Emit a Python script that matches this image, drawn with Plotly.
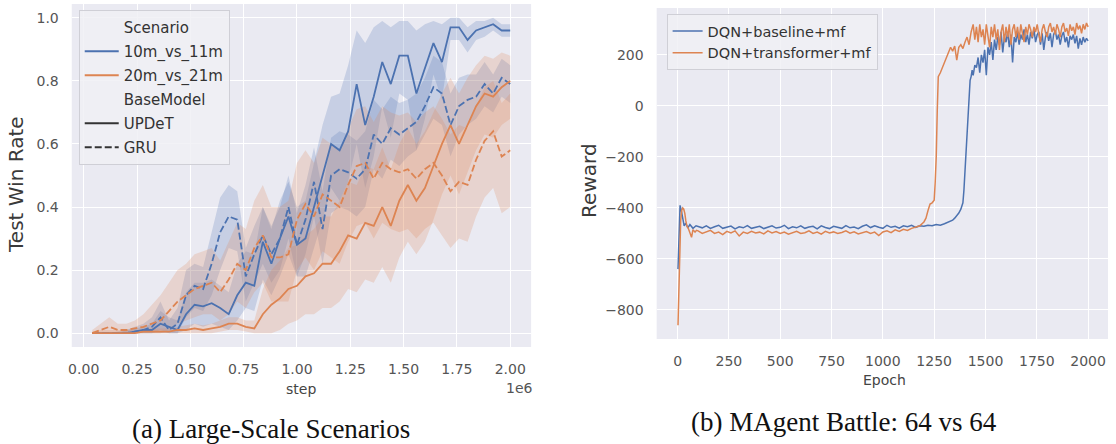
import plotly.graph_objects as go

W, H = 1116, 444

# ---------------- (a) Large-Scale Scenarios ----------------
STEPS_M = [round(0.04 * k, 2) for k in range(1, 51)]  # in units of 1e6 steps

B_UPDET = [0, 0, 0, 0, 0, 0.005, 0.01, 0.01, 0.03, 0.02,
           0.01, 0.06, 0.09, 0.085, 0.095, 0.08, 0.06, 0.12, 0.16, 0.15,
           0.29, 0.22, 0.30, 0.37, 0.28, 0.30, 0.40, 0.50, 0.60, 0.58,
           0.64, 0.79, 0.66, 0.75, 0.86, 0.79, 0.88, 0.88, 0.76, 0.84,
           0.92, 0.86, 0.97, 0.97, 0.93, 0.96, 0.97, 0.98, 0.96, 0.96]
B_UPDET_LO = [0, 0, 0, 0, 0, 0, 0, 0, 0, 0,
              0, 0.01, 0.03, 0.02, 0.03, 0.02, 0.01, 0.04, 0.08, 0.07,
              0.17, 0.12, 0.18, 0.25, 0.18, 0.18, 0.27, 0.36, 0.46, 0.42,
              0.48, 0.60, 0.46, 0.56, 0.72, 0.62, 0.76, 0.74, 0.58, 0.68,
              0.82, 0.74, 0.93, 0.93, 0.89, 0.93, 0.94, 0.96, 0.94, 0.94]
B_UPDET_HI = [0, 0, 0, 0, 0.01, 0.015, 0.02, 0.03, 0.07, 0.05,
              0.04, 0.13, 0.16, 0.16, 0.17, 0.15, 0.13, 0.22, 0.26, 0.25,
              0.40, 0.33, 0.42, 0.48, 0.40, 0.42, 0.54, 0.66, 0.75, 0.76,
              0.85, 0.96, 0.92, 0.97, 0.99, 0.97, 0.99, 0.99, 0.96, 0.98,
              0.99, 0.98, 1.0, 1.0, 0.97, 0.99, 0.99, 1.0, 0.98, 0.98]

B_GRU = [0, 0, 0, 0, 0, 0.005, 0.01, 0.02, 0.05, 0.01,
         0.03, 0.12, 0.15, 0.14, 0.22, 0.32, 0.37, 0.36, 0.18, 0.25,
         0.31, 0.25, 0.30, 0.40, 0.28, 0.36, 0.48, 0.33, 0.50, 0.52,
         0.51, 0.49, 0.52, 0.63, 0.60, 0.65, 0.63, 0.65, 0.67, 0.72,
         0.78, 0.76, 0.66, 0.72, 0.74, 0.75, 0.79, 0.76, 0.81, 0.79]
B_GRU_LO = [0, 0, 0, 0, 0, 0, 0, 0, 0.01, 0,
            0, 0.05, 0.08, 0.07, 0.12, 0.20, 0.27, 0.26, 0.10, 0.16,
            0.22, 0.16, 0.20, 0.30, 0.18, 0.25, 0.37, 0.22, 0.38, 0.40,
            0.39, 0.37, 0.40, 0.52, 0.49, 0.55, 0.53, 0.56, 0.58, 0.63,
            0.68, 0.66, 0.56, 0.63, 0.66, 0.68, 0.72, 0.70, 0.75, 0.73]
B_GRU_HI = [0, 0, 0, 0.005, 0.01, 0.02, 0.03, 0.05, 0.10, 0.04,
            0.08, 0.20, 0.22, 0.21, 0.32, 0.43, 0.47, 0.45, 0.27, 0.34,
            0.40, 0.34, 0.40, 0.50, 0.38, 0.47, 0.59, 0.45, 0.62, 0.64,
            0.63, 0.61, 0.64, 0.74, 0.71, 0.75, 0.73, 0.74, 0.76, 0.81,
            0.88, 0.86, 0.76, 0.81, 0.82, 0.82, 0.86, 0.82, 0.87, 0.85]

O_UPDET = [0, 0, 0, 0, 0, 0, 0.005, 0.005, 0.005, 0.005,
           0.01, 0.01, 0.015, 0.01, 0.015, 0.02, 0.03, 0.03, 0.02, 0.015,
           0.06, 0.09, 0.11, 0.14, 0.15, 0.18, 0.19, 0.22, 0.22, 0.26,
           0.31, 0.30, 0.35, 0.34, 0.40, 0.34, 0.42, 0.47, 0.42, 0.46,
           0.53, 0.60, 0.66, 0.60, 0.66, 0.72, 0.76, 0.75, 0.78, 0.80]
O_UPDET_LO = [0, 0, 0, 0, 0, 0, 0, 0, 0, 0,
              0, 0, 0, 0, 0, 0.005, 0.01, 0.01, 0.005, 0,
              0, 0, 0.01, 0.03, 0.04, 0.06, 0.06, 0.08, 0.08, 0.10,
              0.14, 0.13, 0.17, 0.16, 0.21, 0.16, 0.24, 0.29, 0.25, 0.29,
              0.36, 0.44, 0.50, 0.44, 0.51, 0.58, 0.63, 0.62, 0.66, 0.68]
O_UPDET_HI = [0.005, 0.01, 0.01, 0.01, 0.01, 0.01, 0.015, 0.015, 0.015, 0.015,
              0.02, 0.025, 0.03, 0.025, 0.03, 0.04, 0.05, 0.05, 0.04, 0.04,
              0.14, 0.20, 0.23, 0.27, 0.28, 0.31, 0.33, 0.37, 0.37, 0.42,
              0.48, 0.47, 0.53, 0.52, 0.59, 0.52, 0.60, 0.65, 0.60, 0.64,
              0.70, 0.76, 0.81, 0.76, 0.81, 0.85, 0.88, 0.87, 0.89, 0.88]

O_GRU = [0, 0.01, 0.02, 0.01, 0.01, 0.015, 0.02, 0.03, 0.04, 0.07,
         0.10, 0.12, 0.14, 0.15, 0.16, 0.13, 0.17, 0.22, 0.20, 0.27,
         0.31, 0.24, 0.24, 0.25, 0.36, 0.41, 0.37, 0.44, 0.42, 0.40,
         0.47, 0.53, 0.54, 0.49, 0.54, 0.52, 0.51, 0.52, 0.49, 0.52,
         0.54, 0.50, 0.45, 0.48, 0.47, 0.55, 0.61, 0.64, 0.56, 0.58]
O_GRU_LO = [0, 0, 0, 0, 0, 0, 0, 0, 0, 0.01,
            0.03, 0.04, 0.05, 0.06, 0.06, 0.04, 0.06, 0.10, 0.08, 0.13,
            0.16, 0.10, 0.10, 0.10, 0.20, 0.24, 0.20, 0.26, 0.24, 0.22,
            0.29, 0.34, 0.35, 0.30, 0.35, 0.33, 0.32, 0.33, 0.30, 0.33,
            0.35, 0.31, 0.27, 0.30, 0.29, 0.37, 0.43, 0.46, 0.38, 0.40]
O_GRU_HI = [0.01, 0.03, 0.05, 0.03, 0.03, 0.04, 0.06, 0.09, 0.12, 0.16,
            0.20, 0.22, 0.25, 0.26, 0.27, 0.23, 0.29, 0.35, 0.33, 0.42,
            0.47, 0.40, 0.40, 0.42, 0.54, 0.58, 0.54, 0.62, 0.60, 0.58,
            0.65, 0.71, 0.72, 0.67, 0.72, 0.70, 0.69, 0.70, 0.67, 0.70,
            0.72, 0.68, 0.63, 0.66, 0.65, 0.72, 0.78, 0.80, 0.73, 0.76]

A_XTICKS = [0, 0.25, 0.5, 0.75, 1.0, 1.25, 1.5, 1.75, 2.0]
A_XTICKTEXT = ["0.00", "0.25", "0.50", "0.75", "1.00", "1.25", "1.50", "1.75", "2.00"]
A_YTICKS = [0.0, 0.2, 0.4, 0.6, 0.8, 1.0]
A_YTICKTEXT = ["0.0", "0.2", "0.4", "0.6", "0.8", "1.0"]

# ---------------- (b) MAgent Battle ----------------
BASE_EP = ([2, 8, 12, 18, 25, 32, 40, 50, 60, 75, 90]
           + list(range(100, 1281, 20))
           + [1300, 1320, 1340, 1350, 1360, 1370, 1380, 1390, 1395, 1400, 1405,
              1410, 1415, 1420, 1425, 1430, 1435]
           + list(range(1440, 2001, 8)))
BASE_R = ([-640, -500, -390, -410, -440, -470, -460, -478, -465, -480, -470]
          + [-472, -478, -470, -480, -474, -468, -480, -476, -471, -482,
             -474, -478, -469, -480, -475, -472, -481, -474, -470, -479,
             -476, -468, -481, -474, -478, -470, -480, -475, -472, -482,
             -470, -477, -481, -472, -476, -480, -469, -478, -475, -481,
             -472, -466, -477, -470, -476, -480, -468, -476, -472, -479,
             -470, -474, -468, -476, -470, -472, -468, -470, -465, -468]
          + [-462, -455, -448, -440, -430, -420, -405, -380, -330, -250, -170,
             -100, -20, 50, 100, 115, 140]
          + [120, 160, 150, 190, 130, 200, 170, 220, 120, 230,
             200, 250, 180, 260, 220, 270, 240, 290, 210, 270,
             250, 290, 230, 280, 170, 270, 250, 290, 240, 280,
             260, 300, 250, 280, 240, 290, 265, 300, 250, 280,
             290, 240, 285, 220, 270, 290, 255, 285, 230, 280,
             295, 260, 280, 240, 275, 290, 250, 270, 230, 275,
             260, 280, 245, 275, 225, 265, 240, 270, 250, 265,
             255])

TRANS_EP = ([2, 6, 10, 15, 20, 25, 30, 35, 40, 45, 52, 60, 68, 75, 85, 92]
            + list(range(100, 1201, 20))
            + [1210, 1220, 1230, 1240, 1250, 1255, 1260, 1265, 1270, 1280, 1290,
               1300, 1310, 1320, 1330, 1340, 1350, 1360, 1370, 1380, 1390, 1400,
               1410, 1420, 1430]
            + list(range(1440, 2001, 8)))
TRANS_R = ([-860, -700, -560, -450, -410, -400, -405, -420, -450, -470, -480,
            -500, -515, -485, -495, -488]
           + [-490, -500, -495, -488, -500, -495, -505, -492, -498, -490,
              -510, -495, -500, -492, -498, -495, -502, -490, -498, -493,
              -500, -495, -503, -496, -492, -500, -497, -490, -500, -495,
              -503, -492, -498, -494, -500, -496, -490, -499, -494, -502,
              -496, -493, -500, -495, -508, -494, -490, -497, -486, -492,
              -484, -488, -480, -476, -470, -455]
           + [-440, -410, -385, -380, -370, -300, -200, -20, 115, 130, 150,
              170, 190, 210, 230, 215, 235, 180, 230, 240, 225, 250,
              270, 240, 290]
           + [320, 260, 310, 250, 320, 270, 300, 240, 320, 280,
              230, 310, 270, 320, 260, 300, 220, 290, 320, 250,
              310, 270, 320, 240, 300, 320, 270, 310, 260, 320,
              290, 250, 310, 280, 320, 300, 270, 310, 290, 320,
              280, 250, 300, 320, 290, 270, 310, 325, 290, 310,
              280, 320, 300, 270, 310, 325, 290, 305, 275, 320,
              295, 310, 280, 325, 300, 315, 285, 320, 300, 325,
              310])

assert len(BASE_EP) == len(BASE_R), (len(BASE_EP), len(BASE_R))
assert len(TRANS_EP) == len(TRANS_R), (len(TRANS_EP), len(TRANS_R))

B_XTICKS = [0, 250, 500, 750, 1000, 1250, 1500, 1750, 2000]
B_YTICKS = [-800, -600, -400, -200, 0, 200]
B_YTICKTEXT = ["\u2212800", "\u2212600", "\u2212400", "\u2212200", "0", "200"]

# ---------------- styling ----------------
BLUE = "#4C72B0"
ORANGE = "#DD8452"
BLUE_FILL = "rgba(76,114,176,0.22)"
ORANGE_FILL = "rgba(221,132,82,0.22)"
BG = "#EAEAF2"
TICK_FONT = dict(family="DejaVu Sans", size=14, color="#555555")
DASH = "7px,3px"


def px_x(p):
    return p / W


def px_y(p):
    return 1 - p / H


fig = go.Figure()

steps = [s * 1e6 for s in STEPS_M]


def band(lo, hi, color):
    fig.add_trace(go.Scatter(
        x=steps + steps[::-1], y=hi + lo[::-1], fill="toself", fillcolor=color,
        line=dict(width=0), mode="lines", hoverinfo="skip", showlegend=False,
        xaxis="x", yaxis="y"))


band(B_UPDET_LO, B_UPDET_HI, BLUE_FILL)
band(B_GRU_LO, B_GRU_HI, BLUE_FILL)
band(O_UPDET_LO, O_UPDET_HI, ORANGE_FILL)
band(O_GRU_LO, O_GRU_HI, ORANGE_FILL)

for ys, col, dash in [(B_UPDET, BLUE, "solid"), (B_GRU, BLUE, DASH),
                      (O_UPDET, ORANGE, "solid"), (O_GRU, ORANGE, DASH)]:
    fig.add_trace(go.Scatter(x=steps, y=ys, mode="lines",
                             line=dict(color=col, width=1.8, dash=dash),
                             showlegend=False, xaxis="x", yaxis="y"))

# legend entries for (a)
for i, (name, col, dash) in enumerate([("Scenario", "rgba(0,0,0,0)", "solid"),
                                       ("10m_vs_11m", BLUE, "solid"),
                                       ("20m_vs_21m", ORANGE, "solid"),
                                       ("BaseModel", "rgba(0,0,0,0)", "solid"),
                                       ("UPDeT", "#333333", "solid"),
                                       ("GRU", "#333333", DASH)]):
    fig.add_trace(go.Scatter(x=[None], y=[None], mode="lines", name=name,
                             legendgroup="a%d" % i,
                             line=dict(color=col, width=1.8, dash=dash),
                             legend="legend", xaxis="x", yaxis="y"))

# (b)
fig.add_trace(go.Scatter(x=BASE_EP, y=BASE_R, mode="lines", name="DQN+baseline+mf",
                         legendgroup="b0",
                         line=dict(color=BLUE, width=1.5), legend="legend2",
                         xaxis="x2", yaxis="y2"))
fig.add_trace(go.Scatter(x=TRANS_EP, y=TRANS_R, mode="lines", name="DQN+transformer+mf",
                         legendgroup="b1",
                         line=dict(color=ORANGE, width=1.5), legend="legend2",
                         xaxis="x2", yaxis="y2"))

axis_common = dict(showgrid=True, gridcolor="white", gridwidth=1, zeroline=False,
                   showline=False, ticks="", tickfont=TICK_FONT, ticklabelstandoff=12)

fig.update_layout(
    width=W, height=H, autosize=False,
    margin=dict(l=0, r=0, t=0, b=0),
    paper_bgcolor="white", plot_bgcolor=BG,
    xaxis=dict(domain=[px_x(68), px_x(529)], range=[-0.056e6, 2.098e6],
               tickvals=[v * 1e6 for v in A_XTICKS], ticktext=A_XTICKTEXT,
               anchor="y", **axis_common),
    yaxis=dict(domain=[px_y(347), px_y(4)], range=[-0.044, 1.044],
               tickvals=A_YTICKS, ticktext=A_YTICKTEXT, anchor="x", **axis_common),
    xaxis2=dict(domain=[px_x(655), px_x(1108)], range=[-102, 2097],
                tickvals=B_XTICKS, ticktext=[str(v) for v in B_XTICKS],
                anchor="y2", **axis_common),
    yaxis2=dict(domain=[px_y(339), px_y(8)], range=[-914, 384],
                tickvals=B_YTICKS, ticktext=B_YTICKTEXT, anchor="x2", **axis_common),
    legend=dict(x=px_x(75), y=px_y(10), xanchor="left", yanchor="top",
                bgcolor="rgba(240,240,245,0.85)", bordercolor="#cfcfd6", borderwidth=1,
                font=dict(family="DejaVu Sans", size=15, color="#333333"),
                tracegroupgap=1.5, itemwidth=34, traceorder="grouped"),
    legend2=dict(x=px_x(665), y=px_y(14), xanchor="left", yanchor="top",
                 bgcolor="rgba(240,240,245,0.85)", bordercolor="#cfcfd6", borderwidth=1,
                 font=dict(family="DejaVu Sans", size=14.5, color="#333333"),
                 tracegroupgap=0, itemwidth=30, traceorder="grouped"),
)

ann = [
    dict(text="Test Win Rate", x=px_x(12), y=px_y(184), textangle=-90,
         font=dict(family="DejaVu Sans", size=20, color="#3a3a3a")),
    dict(text="step", x=px_x(298), y=px_y(389),
         font=dict(family="DejaVu Sans", size=14, color="#444444")),
    dict(text="1e6", x=px_x(517), y=px_y(388),
         font=dict(family="DejaVu Sans", size=14, color="#555555")),
    dict(text="(a) Large-Scale Scenarios", x=px_x(268), y=px_y(429),
         font=dict(family="Liberation Serif", size=27, color="#111111")),
    dict(text="Reward", x=px_x(587), y=px_y(181), textangle=-90,
         font=dict(family="DejaVu Sans", size=20, color="#3a3a3a")),
    dict(text="Epoch", x=px_x(884), y=px_y(380),
         font=dict(family="DejaVu Sans", size=14, color="#444444")),
    dict(text="(b) MAgent Battle: 64 vs 64", x=px_x(843), y=px_y(422),
         font=dict(family="Liberation Serif", size=27, color="#111111")),
]
for a in ann:
    fig.add_annotation(xref="paper", yref="paper", xanchor="center", yanchor="middle",
                       showarrow=False, **a)

fig.write_html("out.html")
